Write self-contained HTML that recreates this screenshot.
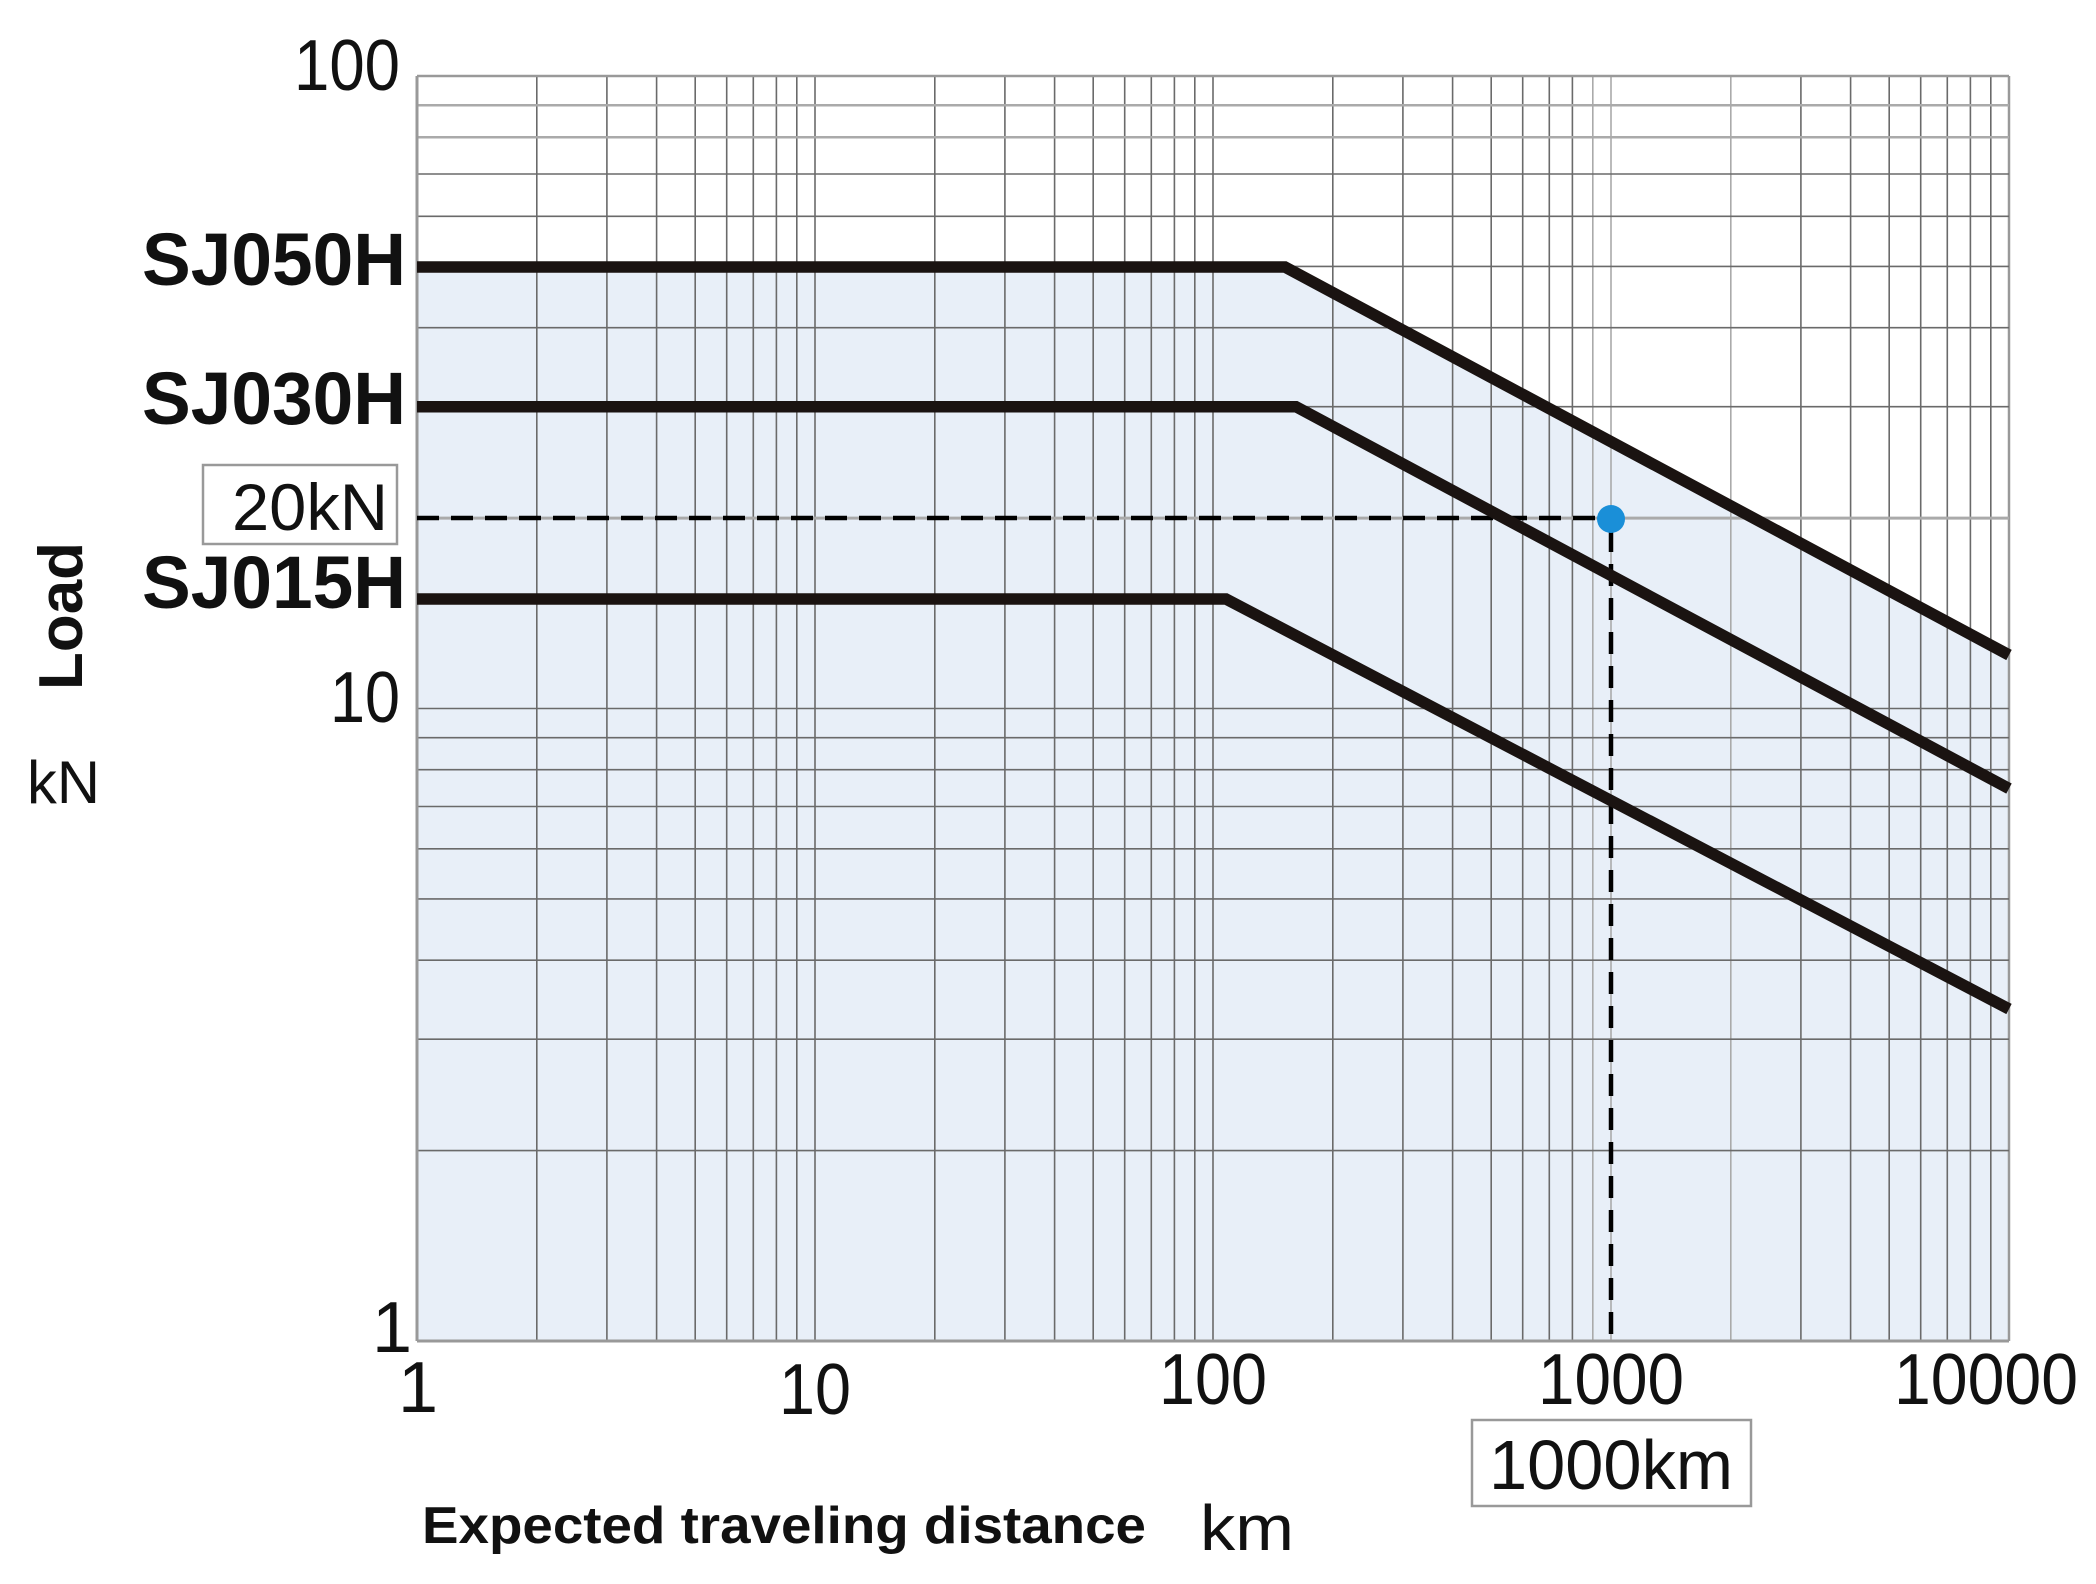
<!DOCTYPE html>
<html><head><meta charset="utf-8"><style>html,body{margin:0;padding:0;background:#fff}svg{display:block}</style></head>
<body>
<svg width="2096" height="1584" viewBox="0 0 2096 1584" xmlns="http://www.w3.org/2000/svg" font-family="Liberation Sans, sans-serif">
<polygon points="417,267 1285,267 2009,655 2009,1341 417,1341" fill="#e8eff8"/>
<g stroke="#6a6a6a" stroke-width="1.6">
<line x1="417" y1="76" x2="417" y2="1341"/><line x1="536.8" y1="76" x2="536.8" y2="1341"/><line x1="606.9" y1="76" x2="606.9" y2="1341"/><line x1="656.6" y1="76" x2="656.6" y2="1341"/><line x1="695.2" y1="76" x2="695.2" y2="1341"/><line x1="726.7" y1="76" x2="726.7" y2="1341"/><line x1="753.3" y1="76" x2="753.3" y2="1341"/><line x1="776.4" y1="76" x2="776.4" y2="1341"/><line x1="796.8" y1="76" x2="796.8" y2="1341"/>
<line x1="815" y1="76" x2="815" y2="1341"/><line x1="934.8" y1="76" x2="934.8" y2="1341"/><line x1="1004.9" y1="76" x2="1004.9" y2="1341"/><line x1="1054.6" y1="76" x2="1054.6" y2="1341"/><line x1="1093.2" y1="76" x2="1093.2" y2="1341"/><line x1="1124.7" y1="76" x2="1124.7" y2="1341"/><line x1="1151.3" y1="76" x2="1151.3" y2="1341"/><line x1="1174.4" y1="76" x2="1174.4" y2="1341"/><line x1="1194.8" y1="76" x2="1194.8" y2="1341"/>
<line x1="1213" y1="76" x2="1213" y2="1341"/><line x1="1332.8" y1="76" x2="1332.8" y2="1341"/><line x1="1402.9" y1="76" x2="1402.9" y2="1341"/><line x1="1452.6" y1="76" x2="1452.6" y2="1341"/><line x1="1491.2" y1="76" x2="1491.2" y2="1341"/><line x1="1522.7" y1="76" x2="1522.7" y2="1341"/><line x1="1549.3" y1="76" x2="1549.3" y2="1341"/><line x1="1572.4" y1="76" x2="1572.4" y2="1341"/><line x1="1592.8" y1="76" x2="1592.8" y2="1341" stroke="#aaa"/>
<line x1="1611" y1="76" x2="1611" y2="1341" stroke="#aaa"/><line x1="1730.8" y1="76" x2="1730.8" y2="1341" stroke="#aaa"/><line x1="1800.9" y1="76" x2="1800.9" y2="1341"/><line x1="1850.6" y1="76" x2="1850.6" y2="1341"/><line x1="1889.2" y1="76" x2="1889.2" y2="1341"/><line x1="1920.7" y1="76" x2="1920.7" y2="1341"/><line x1="1947.3" y1="76" x2="1947.3" y2="1341"/><line x1="1970.4" y1="76" x2="1970.4" y2="1341"/><line x1="1990.8" y1="76" x2="1990.8" y2="1341"/>
<line x1="2009" y1="76" x2="2009" y2="1341" stroke="#999" stroke-width="2.5"/>
<line x1="417" y1="1341" x2="2009" y2="1341" stroke="#999" stroke-width="3"/><line x1="417" y1="1150.6" x2="2009" y2="1150.6"/><line x1="417" y1="1039.2" x2="2009" y2="1039.2"/><line x1="417" y1="960.2" x2="2009" y2="960.2"/><line x1="417" y1="898.9" x2="2009" y2="898.9"/><line x1="417" y1="848.8" x2="2009" y2="848.8"/><line x1="417" y1="806.5" x2="2009" y2="806.5"/><line x1="417" y1="769.7" x2="2009" y2="769.7"/><line x1="417" y1="737.7" x2="2009" y2="737.7"/>
<line x1="417" y1="708.5" x2="2009" y2="708.5"/><line x1="417" y1="518.1" x2="2009" y2="518.1" stroke="#aaa" stroke-width="3"/><line x1="417" y1="406.7" x2="2009" y2="406.7"/><line x1="417" y1="327.7" x2="2009" y2="327.7"/><line x1="417" y1="266.4" x2="2009" y2="266.4"/><line x1="417" y1="216.3" x2="2009" y2="216.3"/><line x1="417" y1="174" x2="2009" y2="174"/><line x1="417" y1="137.2" x2="2009" y2="137.2" stroke="#aaa" stroke-width="2.5"/><line x1="417" y1="105.2" x2="2009" y2="105.2" stroke="#aaa" stroke-width="2.5"/><line x1="417" y1="76" x2="2009" y2="76" stroke="#999" stroke-width="2.5"/>
<line x1="417" y1="76" x2="417" y2="1341" stroke="#999" stroke-width="3"/>
</g>
<g stroke="#000" stroke-width="4.5" stroke-dasharray="22,12" fill="none">
<line x1="417" y1="518" x2="1600" y2="518"/>
<line x1="1611" y1="530" x2="1611" y2="1341"/>
</g>
<g stroke="#1a1311" stroke-width="11.5" fill="none" stroke-linejoin="miter">
<polyline points="417,267 1285,267 2009,655"/>
<polyline points="417,406.7 1296,406.7 2009,788.6"/>
<polyline points="417,599 1226,599 2009,1009"/>
</g>
<circle cx="1611" cy="519" r="14" fill="#1a8fd8"/>
<g fill="#111">
<text x="400" y="90" font-size="72" text-anchor="end" textLength="106" lengthAdjust="spacingAndGlyphs">100</text>
<text x="400" y="722" font-size="72" text-anchor="end" textLength="70" lengthAdjust="spacingAndGlyphs">10</text>
<text x="412" y="1352" font-size="72" text-anchor="end">1</text>
<text x="406" y="285" font-size="74" font-weight="bold" text-anchor="end" textLength="264" lengthAdjust="spacingAndGlyphs">SJ050H</text>
<text x="406" y="424" font-size="74" font-weight="bold" text-anchor="end" textLength="264" lengthAdjust="spacingAndGlyphs">SJ030H</text>
<text x="406" y="608" font-size="74" font-weight="bold" text-anchor="end" textLength="264" lengthAdjust="spacingAndGlyphs">SJ015H</text>
<text x="418" y="1412" font-size="72" text-anchor="middle">1</text>
<text x="815" y="1414" font-size="72" text-anchor="middle" textLength="72" lengthAdjust="spacingAndGlyphs">10</text>
<text x="1213" y="1404" font-size="72" text-anchor="middle" textLength="108" lengthAdjust="spacingAndGlyphs">100</text>
<text x="1611" y="1404" font-size="72" text-anchor="middle" textLength="146" lengthAdjust="spacingAndGlyphs">1000</text>
<text x="2078" y="1404" font-size="72" text-anchor="end" textLength="184" lengthAdjust="spacingAndGlyphs">10000</text>
<text x="422" y="1543" font-size="52" font-weight="bold" textLength="724" lengthAdjust="spacingAndGlyphs">Expected traveling distance</text>
<text x="1200" y="1550" font-size="64" textLength="94" lengthAdjust="spacingAndGlyphs">km</text>
<text x="27" y="803" font-size="60" textLength="73" lengthAdjust="spacingAndGlyphs">kN</text>
<text transform="translate(82,690) rotate(-90)" font-size="62" font-weight="bold" textLength="148" lengthAdjust="spacingAndGlyphs">Load</text>
</g>
<rect x="203" y="465" width="194" height="79" fill="#fff" stroke="#999" stroke-width="2.5"/>
<text x="388" y="530" font-size="66" text-anchor="end" fill="#111" textLength="156" lengthAdjust="spacingAndGlyphs">20kN</text>
<rect x="1472" y="1420" width="279" height="86" fill="#fff" stroke="#999" stroke-width="2.5"/>
<text x="1611" y="1489" font-size="70" text-anchor="middle" fill="#111" textLength="244" lengthAdjust="spacingAndGlyphs">1000km</text>
</svg>
</body></html>
